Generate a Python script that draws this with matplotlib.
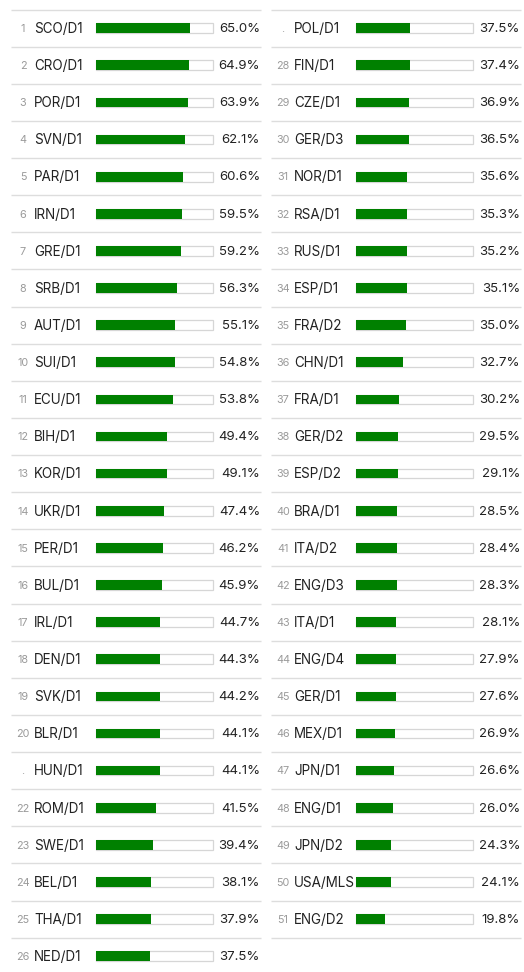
import matplotlib
matplotlib.use("Agg")
import matplotlib.pyplot as plt

labels = ["SCO/D1", "CRO/D1", "POR/D1", "SVN/D1", "PAR/D1", "IRN/D1", "GRE/D1", "SRB/D1",
          "AUT/D1", "SUI/D1", "ECU/D1", "BIH/D1", "KOR/D1", "UKR/D1", "PER/D1", "BUL/D1",
          "IRL/D1", "DEN/D1", "SVK/D1", "BLR/D1", "HUN/D1", "ROM/D1", "SWE/D1", "BEL/D1",
          "THA/D1", "NED/D1",
          "POL/D1", "FIN/D1", "CZE/D1", "GER/D3", "NOR/D1", "RSA/D1", "RUS/D1", "ESP/D1",
          "FRA/D2", "CHN/D1", "FRA/D1", "GER/D2", "ESP/D2", "BRA/D1", "ITA/D2", "ENG/D3",
          "ITA/D1", "ENG/D4", "GER/D1", "MEX/D1", "JPN/D1", "ENG/D1", "JPN/D2", "USA/MLS",
          "ENG/D2"]
values = [65.0, 64.9, 63.9, 62.1, 60.6, 59.5, 59.2, 56.3, 55.1, 54.8, 53.8, 49.4, 49.1,
          47.4, 46.2, 45.9, 44.7, 44.3, 44.2, 44.1, 44.1, 41.5, 39.4, 38.1, 37.9, 37.5,
          37.5, 37.4, 36.9, 36.5, 35.6, 35.3, 35.2, 35.1, 35.0, 32.7, 30.2, 29.5, 29.1,
          28.5, 28.4, 28.3, 28.1, 27.9, 27.6, 26.9, 26.6, 26.0, 24.3, 24.1, 19.8]
ranks = ["1", "2", "3", "4", "5", "6", "7", "8", "9", "10", "11", "12", "13", "14", "15",
         "16", "17", "18", "19", "20", ".", "22", "23", "24", "25", "26",
         ".", "28", "29", "30", "31", "32", "33", "34", "35", "36", "37", "38", "39", "40",
         "41", "42", "43", "44", "45", "46", "47", "48", "49", "50", "51"]

W, H = 524, 972
fig = plt.figure(figsize=(W / 100, H / 100), dpi=100)
ax = fig.add_axes([0, 0, 1, 1])
ax.set_xlim(0, W)
ax.set_ylim(H, 0)
ax.axis("off")

font = "Inter"
n_left = 26
pitch = 37.12
y0 = 28.2
scale_max = max(values) * 1.25
track_x = 96
track_w = 117
bar_h = 9.7

for i, (lab, val, rk) in enumerate(zip(labels, values, ranks)):
    col = 0 if i < n_left else 1
    row = i if col == 0 else i - n_left
    xo = 260 * col
    yc = y0 + row * pitch
    # separator lines
    ax.plot([11 + xo, 261 + xo], [yc - pitch / 2, yc - pitch / 2], color="#dddddd", lw=1.0,
            solid_capstyle="butt")
    if (col == 1 and i == len(labels) - 1):
        ax.plot([11 + xo, 261 + xo], [yc + pitch / 2, yc + pitch / 2], color="#dddddd",
                lw=1.0, solid_capstyle="butt")
    # track
    ax.barh(yc, track_w, left=track_x + xo, height=bar_h, color="white",
            edgecolor="#d6d6d6", linewidth=0.9)
    ax.barh(yc, track_w * val / scale_max, left=track_x + xo, height=bar_h,
            color="#008000", edgecolor="none")
    ax.text(23 + xo, yc + 0.8, rk, ha="center", va="center", fontsize=7.8, color="#9a9a9a",
            family=font)
    ax.text(34 + xo, yc + 0.8, lab, ha="left", va="center", fontsize=9.7, color="#222222",
            family=font)
    ax.text(260 + xo, yc + 0.8, f"{val:.1f}%", ha="right", va="center", fontsize=9.5,
            color="#222222", family=font)

fig.savefig("out.png", dpi=100, facecolor="white")
